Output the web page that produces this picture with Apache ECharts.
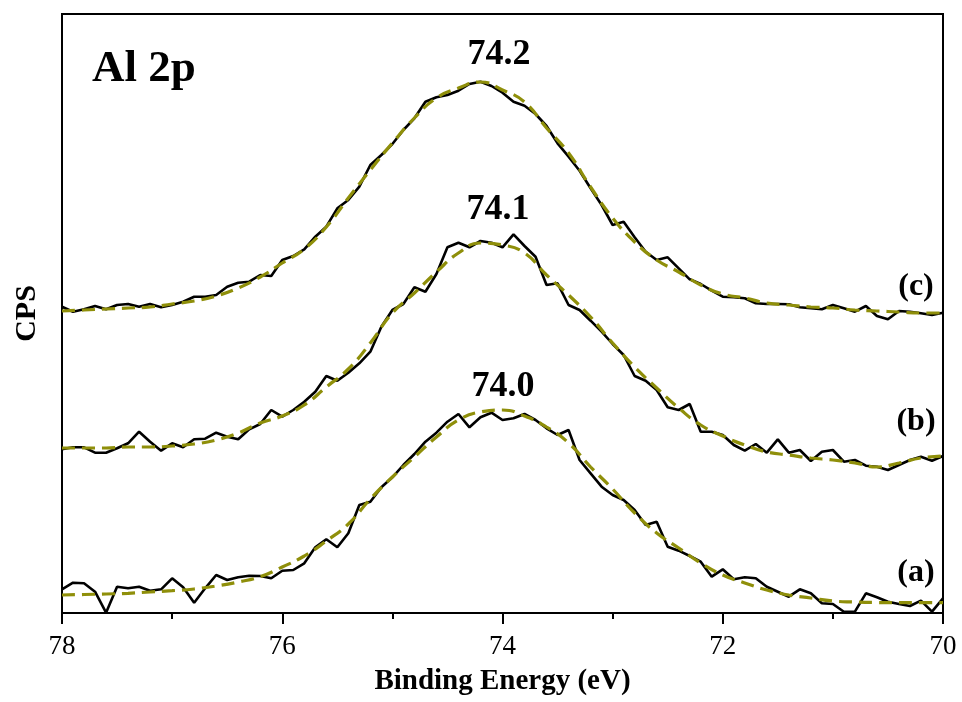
<!DOCTYPE html>
<html>
<head>
<meta charset="utf-8">
<script src="https://cdn.jsdelivr.net/npm/echarts@6/dist/echarts.min.js"></script>
<style>html,body{margin:0;padding:0;background:#fff}#chart{width:962px;height:702px}</style>
</head>
<body>
<div id="chart"></div>
<script>
// Binding energy grid of the measured spectra (eV)
var energies = [78.0,77.9,77.8,77.7,77.6,77.5,77.4,77.3,77.2,77.1,77.0,76.9,76.8,76.7,76.6,76.5,76.4,76.3,76.2,76.1,
  76.0,75.9,75.8,75.7,75.6,75.5,75.4,75.3,75.2,75.1,75.0,74.9,74.8,74.7,74.6,74.5,74.4,74.3,74.2,74.1,
  74.0,73.9,73.8,73.7,73.6,73.5,73.4,73.3,73.2,73.1,73.0,72.9,72.8,72.7,72.6,72.5,72.4,72.3,72.2,72.1,
  72.0,71.9,71.8,71.7,71.6,71.5,71.4,71.3,71.2,71.1,71.0,70.9,70.8,70.7,70.6,70.5,70.4,70.3,70.2,70.1,70.0];
// Measured intensities (arbitrary CPS units, stacked offsets)
var spectrumA = [23.7,30.3,29.7,21.3,0.3,26.3,24.7,26.3,22.3,23.7,34.7,25.7,10.3,24.7,38,33,35.7,37.3,37,34.7,
  42.3,43,49.7,65.7,73.7,65.7,79.7,108,111.3,125.7,135.7,148,159,171.3,180.3,191.3,199,185.7,195.7,200.3,
  193,194.7,199,193,184.7,178,183,153,139.7,126.3,118,113,103,88,91.3,66.3,62.3,57,51.3,36.3,
  43.7,33.7,35.7,34.7,26.3,21.3,16.3,23.7,19.7,9.7,9,1.3,1.3,19.7,15.7,11.3,9,7,12.3,1.3,14.7];
var spectrumB = [163.7,165.7,165.7,160.3,160.3,164.7,169.7,181.3,171.3,162.3,169.7,165.7,173.7,174.3,180.3,176.3,173.7,183.7,189,203,
  196.3,203,211.3,221.3,237,232.3,240.3,249.7,261.3,286.3,303,309,325.7,321.3,339,365.7,370.3,365.7,372,370.3,
  365.7,378.7,367,356.3,328,329.7,308,303,292.3,281.3,269,258,237,232.3,223,205.7,203,209,181.3,181.3,
  178,168,162.3,169,160.3,173.7,160.3,163,152,161.3,163,151.3,153,147.3,146.3,143,148,153,156.3,152.3,157];
var spectrumC = [306.3,301.3,303.7,307,303.7,308,309,306.3,309,305.7,308,311.3,316.3,316.3,318,326.3,330.3,331.3,338,337,
  353,357,363.7,376.3,386.3,404.7,413,426.3,448,458,469,483,494.7,511.3,515.7,518,522.3,529,531.3,527,
  520.3,511.3,507.3,499,487,469.7,456.3,442.3,424.7,408,388,391.3,375.7,361.3,353,355.7,344.7,333.7,329,322.3,
  316.3,315.7,314.7,309.7,309,309,308.7,305.7,304.7,303.7,308,304.7,301.3,307,297,293.7,302,301.3,299.7,298,300.3];
// Fitted envelopes, sampled every 0.2 eV
var fitEnergies = [78.0,77.8,77.6,77.4,77.2,77.0,76.8,76.6,76.4,76.2,76.0,75.8,75.6,75.4,75.2,75.0,74.8,74.6,74.4,74.2,
  74.0,73.8,73.6,73.4,73.2,73.0,72.8,72.6,72.4,72.2,72.0,71.8,71.6,71.4,71.2,71.0,70.8,70.6,70.4,70.2,70.0];
var fitA = [18,18.5,19,19.7,21,22.3,24,27,31,36.3,46,57,72,89,114,136,156,176,193,201,
  203,197,186,170,146,124,100,80,65,50,38,30,23,18,15,12,11,10.5,10.3,10.3,10.3];
var fitB = [165,165,165,166,166,167,169,173,180,190,197,208,226,244,270,300,320,341,360,370,
  368,360,338,318,296,270,246,225,205,188,177,168,161,158,155,153,150,146,150,155,157];
var fitC = [302,303,304,305,306,309,312,317,325,336,350,364,386,415,443,470,495,515,525,531,
  523,511,485,460,426,395,371,353,341,328,319,315,310,308,306,305,303,302,301,300,300];
var xTicks = [78, 76, 74, 72, 70];
var peakLabels = ['74.2', '74.1', '74.0'];
var curveLabels = ['(c)', '(b)', '(a)'];

function pairs(xs, ys) { return xs.map(function (x, i) { return [x, ys[i]]; }); }

var SERIF = '"Liberation Serif", "Times New Roman", serif';
var chart = echarts.init(document.getElementById('chart'), null, { renderer: 'canvas' });

function measured(name, ys) {
  return { name: name, type: 'line', data: pairs(energies, ys), symbol: 'none', smooth: false,
    lineStyle: { color: '#000', width: 2.6 }, z: 2, clip: true, animation: false };
}
function fitted(name, ys) {
  return { name: name, type: 'line', data: pairs(fitEnergies, ys), symbol: 'none', smooth: true,
    lineStyle: { color: '#8f8f0a', width: 3.2, type: [13, 7] }, z: 3, clip: true, animation: false };
}

var option = {
  animation: false,
  backgroundColor: '#fff',
  grid: { left: 62, right: 19, top: 14, bottom: 89, show: true, borderColor: '#000', borderWidth: 2, containLabel: false },
  xAxis: {
    type: 'value', inverse: true, min: 70, max: 78, interval: 2,
    axisLine: { show: true, lineStyle: { color: '#000', width: 2 } },
    axisTick: { show: true, inside: false, length: 11, lineStyle: { color: '#000', width: 2 } },
    minorTick: { show: true, splitNumber: 2, length: 6, lineStyle: { color: '#000', width: 2 } },
    splitLine: { show: false },
    axisLabel: { color: '#000', fontFamily: SERIF, fontSize: 27, margin: 20,
      formatter: function (v) { return xTicks.indexOf(v) >= 0 ? String(v) : ''; } },
    name: 'Binding Energy (eV)', nameLocation: 'middle', nameGap: 54,
    nameTextStyle: { color: '#000', fontFamily: SERIF, fontSize: 29, fontWeight: 'bold' }
  },
  yAxis: {
    type: 'value', min: 0, max: 599,
    axisLine: { show: true, lineStyle: { color: '#000', width: 2 } },
    axisTick: { show: false }, axisLabel: { show: false }, splitLine: { show: false },
    name: 'CPS', nameLocation: 'middle', nameGap: 20, nameRotate: 90,
    nameTextStyle: { color: '#000', fontFamily: SERIF, fontSize: 30, fontWeight: 'bold' }
  },
  series: [
    measured('a', spectrumA), measured('b', spectrumB), measured('c', spectrumC),
    fitted('fit a', fitA), fitted('fit b', fitB), fitted('fit c', fitC)
  ],
  graphic: [
    { type: 'text', left: 92, top: 47, style: { text: 'Al 2p', font: 'bold 45px ' + SERIF, fill: '#000' } },
    { type: 'text', x: 499, y: 55, style: { text: peakLabels[0], font: 'bold 36px ' + SERIF, fill: '#000', textAlign: 'center', textVerticalAlign: 'middle' } },
    { type: 'text', x: 498, y: 210, style: { text: peakLabels[1], font: 'bold 36px ' + SERIF, fill: '#000', textAlign: 'center', textVerticalAlign: 'middle' } },
    { type: 'text', x: 503, y: 387, style: { text: peakLabels[2], font: 'bold 36px ' + SERIF, fill: '#000', textAlign: 'center', textVerticalAlign: 'middle' } },
    { type: 'text', x: 916, y: 287, style: { text: curveLabels[0], font: 'bold 32px ' + SERIF, fill: '#000', textAlign: 'center', textVerticalAlign: 'middle' } },
    { type: 'text', x: 916, y: 422, style: { text: curveLabels[1], font: 'bold 32px ' + SERIF, fill: '#000', textAlign: 'center', textVerticalAlign: 'middle' } },
    { type: 'text', x: 916, y: 573, style: { text: curveLabels[2], font: 'bold 32px ' + SERIF, fill: '#000', textAlign: 'center', textVerticalAlign: 'middle' } }
  ]
};
chart.setOption(option);
</script>
</body>
</html>
